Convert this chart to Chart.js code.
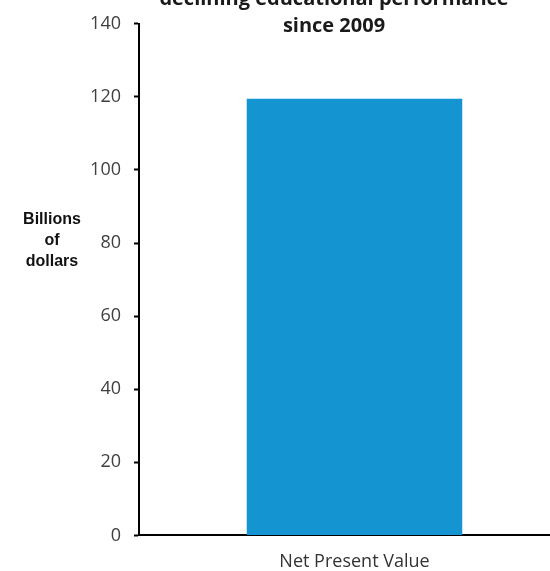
<!DOCTYPE html>
<html>
<head>
<meta charset="utf-8">
<script src="https://cdn.jsdelivr.net/npm/chart.js@4"></script>
<style>
  html, body { margin: 0; padding: 0; background: #fff; overflow: hidden; }
  #wrap { position: absolute; left: 0; top: 0; width: 550px; height: 571px; overflow: hidden; }
</style>
</head>
<body>
<div id="wrap"><canvas id="npvChart" width="570" height="590"></canvas></div>
<script>
// Chart data
const categories = ['Net Present Value'];
const npvValues = [119.5];
const yMin = 0;
const yMax = 140;
const yStep = 20;
const titleLines = ['declining educational performance', 'since 2009'];
const yTitleLines = ['Billions', 'of', 'dollars'];

// Draws the title and the horizontal y axis caption
const textLabels = {
    id: 'textLabels',
    afterDraw(chart) {
        const ctx = chart.ctx;
        ctx.save();
        ctx.fillStyle = '#1a1a1a';
        ctx.textAlign = 'center';
        ctx.textBaseline = 'alphabetic';
        ctx.font = 'bold 20px "Open Sans"';
        titleLines.forEach((line, i) => {
            ctx.fillText(line, 334, 5 + i * 27);
        });

        ctx.fillStyle = '#111';
        ctx.font = 'bold 16px "Liberation Sans"';
        ctx.textBaseline = 'middle';
        yTitleLines.forEach((line, i) => {
            ctx.fillText(line, 52, 220 + i * 21);
        });
        ctx.restore();
    }
};

const ctx = document.getElementById('npvChart').getContext('2d');
new Chart(ctx, {
    type: 'bar',
    data: {
        labels: categories,
        datasets: [{
            data: npvValues,
            backgroundColor: '#1594d2',
            borderWidth: 0,
            barPercentage: 0.5,
            categoryPercentage: 1.0
        }]
    },
    options: {
        responsive: false,
        animation: false,
        layout: {
            padding: { top: 21, right: 0, bottom: 1, left: 0 }
        },
        scales: {
            x: {
                grid: { display: false, drawTicks: false },
                border: { display: true, color: '#000', width: 2 },
                ticks: {
                    color: '#333',
                    padding: 16,
                    font: { family: 'Open Sans', size: 18 }
                }
            },
            y: {
                min: yMin,
                max: yMax,
                afterFit: function(scale) {
                    scale.width = 139;
                },
                grid: {
                    drawOnChartArea: false,
                    drawTicks: true,
                    tickLength: 5,
                    tickWidth: 2,
                    color: '#000'
                },
                border: { display: true, color: '#000', width: 2 },
                ticks: {
                    stepSize: yStep,
                    color: '#404040',
                    padding: 13,
                    font: { family: 'Open Sans', size: 18 }
                }
            }
        },
        plugins: {
            legend: { display: false },
            tooltip: { enabled: false },
            title: { display: false }
        }
    },
    plugins: [textLabels]
});
</script>
</body>
</html>
